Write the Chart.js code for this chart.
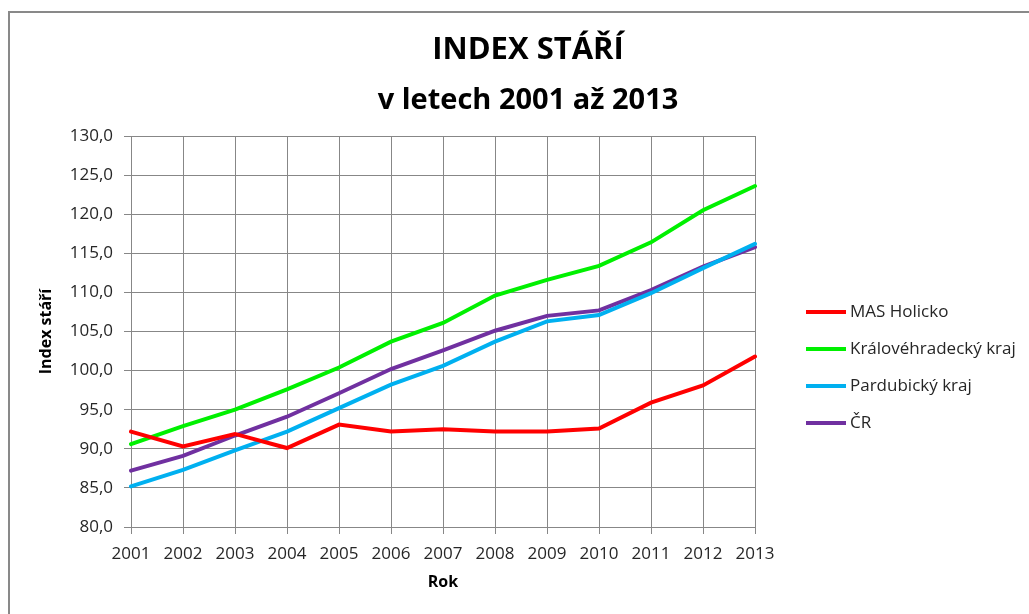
<!DOCTYPE html>
<html>
<head>
<meta charset="utf-8">
<script src="https://cdn.jsdelivr.net/npm/chart.js@4"></script>
<style>
  body { margin: 0; background: #fff; }
  #wrap { position: relative; width: 1029px; height: 614px; }
  #frame { position: absolute; left: 8px; top: 11px; right: -4px; bottom: -4px;
           border-left: 2px solid #898989; border-top: 2px solid #898989; pointer-events: none; }
</style>
</head>
<body>
<div id="wrap">
  <canvas id="lineChart" width="1029" height="614"></canvas>
  <div id="frame"></div>
</div>
<script>
const years = ["2001","2002","2003","2004","2005","2006","2007","2008","2009","2010","2011","2012","2013"];
const masHolicko = [92.2, 90.3, 91.9, 90.1, 93.1, 92.2, 92.5, 92.2, 92.2, 92.6, 95.9, 98.1, 101.8];
const kralovehradecky = [90.6, 92.9, 95.0, 97.6, 100.4, 103.7, 106.1, 109.6, 111.6, 113.4, 116.4, 120.5, 123.6];
const pardubicky = [85.2, 87.3, 89.8, 92.2, 95.2, 98.2, 100.6, 103.7, 106.3, 107.1, 109.9, 113.1, 116.2];
const cr = [87.2, 89.1, 91.7, 94.1, 97.1, 100.2, 102.6, 105.1, 107.0, 107.7, 110.3, 113.3, 115.8];

const font = "'Open Sans', 'Noto Sans', sans-serif";
const gridColor = "#878787";

// legend drawn beside the plot
const sideLegend = {
    id: "sideLegend",
    afterDraw(chart) {
        const ctx = chart.ctx;
        const area = chart.chartArea;
        ctx.save();
        ctx.font = "17px " + font;
        ctx.textBaseline = "middle";
        ctx.fillStyle = "#262626";
        chart.data.datasets.forEach((ds, i) => {
            const y = area.top + 176 + i * 37;
            const x = area.right + 51;
            ctx.strokeStyle = ds.borderColor;
            ctx.lineWidth = 4;
            ctx.beginPath();
            ctx.moveTo(x, y);
            ctx.lineTo(x + 40, y);
            ctx.stroke();
            ctx.fillText(ds.label, x + 44, y);
        });
        ctx.restore();
    }
};

const line = document.getElementById("lineChart");

new Chart(line, {
    type: "line",
    data: {
        labels: years,
        datasets: [
            { label: "MAS Holicko", data: masHolicko, borderColor: "#FF0000" },
            { label: "Královéhradecký kraj", data: kralovehradecky, borderColor: "#00F000" },
            { label: "Pardubický kraj", data: pardubicky, borderColor: "#00B0F0" },
            { label: "ČR", data: cr, borderColor: "#7030A0" }
        ]
    },
    options: {
        responsive: false,
        animation: false,
        layout: { padding: { left: 27, right: 0, top: 0, bottom: 10 } },
        elements: {
            line: { borderWidth: 4, tension: 0, borderCapStyle: "round" },
            point: { radius: 0 }
        },
        plugins: {
            legend: { display: false },
            tooltip: { enabled: false },
            title: {
                display: true,
                text: "INDEX STÁŘÍ",
                color: "#000",
                font: { family: font, size: 31, weight: "bold" },
                padding: { top: 32, bottom: 0 }
            },
            subtitle: {
                display: true,
                text: "v letech 2001 až 2013",
                color: "#000",
                font: { family: font, size: 29, weight: "bold" },
                padding: { top: 14, bottom: 18 }
            }
        },
        scales: {
            x: {
                offset: false,
                grid: { color: gridColor, tickLength: 7, tickColor: gridColor },
                border: { color: gridColor },
                ticks: { color: "#262626", padding: 10, maxRotation: 0, autoSkip: false,
                         font: { family: font, size: 17 } },
                title: { display: true, text: "Rok", color: "#000",
                         font: { family: font, size: 16, weight: "bold" },
                         padding: { top: 4, bottom: 12 } },
                afterFit(scale) { scale.height = 77; }
            },
            y: {
                min: 80,
                max: 130,
                grid: { color: gridColor, tickLength: 7, tickColor: gridColor },
                border: { color: gridColor },
                ticks: {
                    stepSize: 5,
                    color: "#262626",
                    padding: 11,
                    font: { family: font, size: 17 },
                    callback: v => v.toFixed(1).replace(".", ",")
                },
                title: { display: true, text: "Index stáří", color: "#000",
                         font: { family: font, size: 16, weight: "bold" },
                         padding: { top: 10, bottom: 0 } },
                afterFit(scale) { scale.width = 104; }
            },
            // empty right-hand strip that holds the legend
            legendSpace: {
                type: "linear",
                position: "right",
                grid: { display: false },
                border: { display: false },
                ticks: { display: false },
                afterFit(scale) { scale.width = 274; }
            }
        }
    },
    plugins: [sideLegend]
});
</script>
</body>
</html>
